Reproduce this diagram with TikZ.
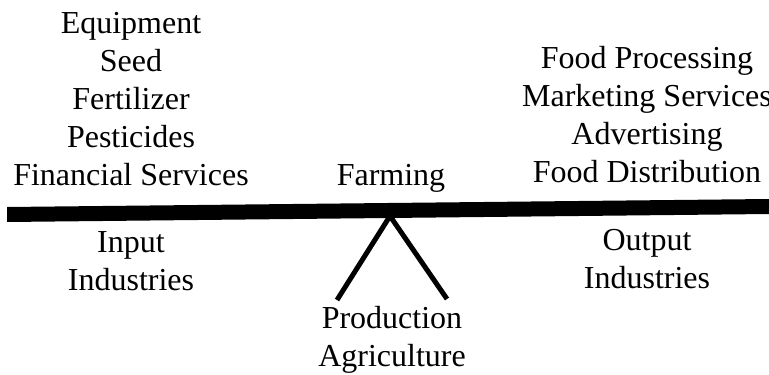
\documentclass[tikz,border=0pt]{standalone}
\usepackage{fontspec}
\setmainfont{Liberation Serif}
\usetikzlibrary{positioning}

\begin{document}
\begin{tikzpicture}[x = 1pt, y = -1pt, font = \fontsize{32}{38}\selectfont,
  every node/.style = {inner sep = 0pt, align = center, anchor = base}]
\useasboundingbox (0, 0) rectangle (769, 375);
% lever and fulcrum
\fill (7, 207) -- (769, 199) -- (769, 214) -- (7, 222) -- cycle;
\coordinate (apex) at (390, 216);
\coordinate (footL) at (337, 300);
\coordinate (footR) at (447, 299);
\draw[line width = 5pt] (footL) -- (apex) -- (footR);
% upper labels
\node (input) at (131, 185) {Equipment\\Seed\\Fertilizer\\Pesticides\\Financial Services};
\node (farm) at (391, 185) {Farming};
\node (output) at (647, 182) {Food Processing\\Marketing Services\\Advertising\\Food Distribution};
% lower labels
\node (inind) at (131, 290) {Input\\Industries};
\node (outind) at (647, 288) {Output\\Industries};
\node (prod) at (392, 366) {Production\\Agriculture};
\end{tikzpicture}
\end{document}
